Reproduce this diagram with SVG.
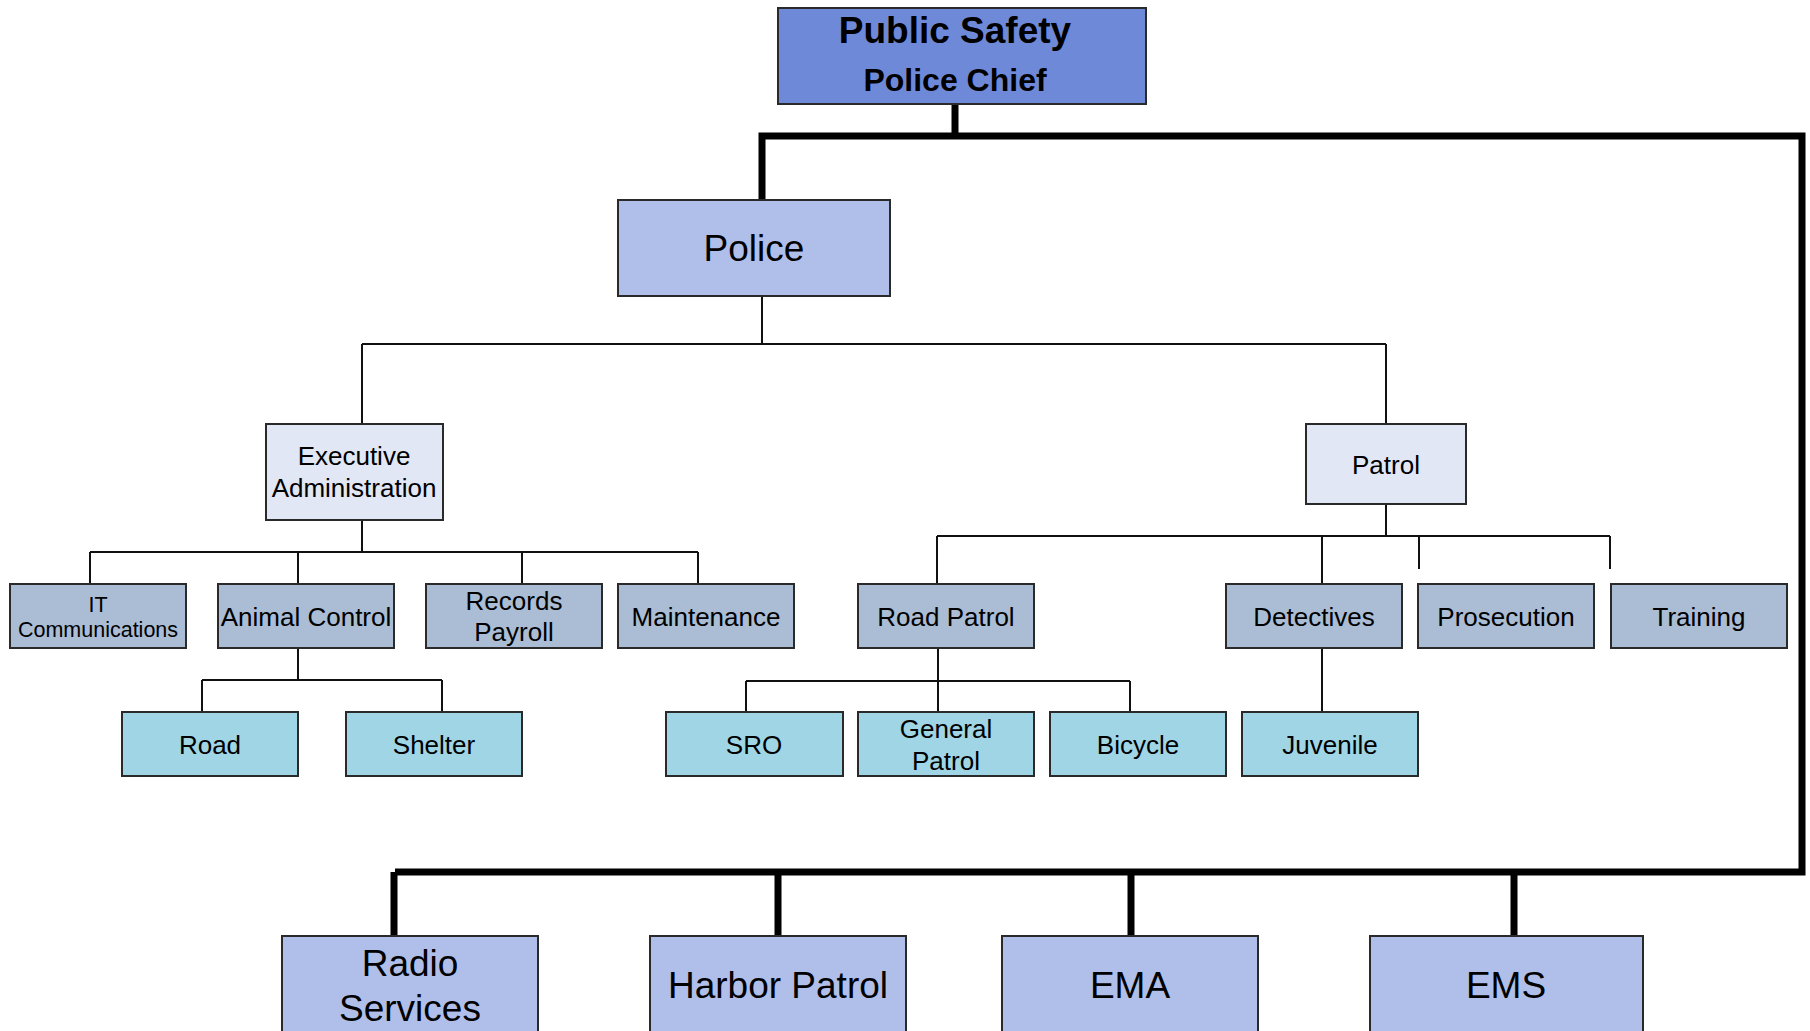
<svg xmlns="http://www.w3.org/2000/svg" width="1810" height="1031" viewBox="0 0 1810 1031">
<style>
  .box { stroke: #2a2a2a; stroke-width: 2; }
  .l0 { fill: #6f89d9; }
  .l1 { fill: #b0bfea; }
  .l2 { fill: #e2e7f6; }
  .l3 { fill: #aabdd4; }
  .l4 { fill: #9fd5e5; }
  text { font-family: "Liberation Sans", Arial, sans-serif; fill: #000; text-anchor: middle; }
  .t26 { font-size: 26px; }
  .t22 { font-size: 21.5px; }
  .t37 { font-size: 37px; }
  .thin { stroke: #111; stroke-width: 2; fill: none; }
  .thick { stroke: #000; stroke-width: 7; fill: none; }
</style>
<rect width="1810" height="1031" fill="#ffffff"/>

<g id="connectors">
  <path class="thick" d="M955 104 V136"/>
  <path class="thick" d="M762 200 V136 H1802 V872 H395"/>
  <path class="thick" d="M394 872 V936 M778 872 V936 M1131 872 V936 M1514 872 V936"/>
  <path class="thin" d="M762 296 V344 M362 344 H1386 M362 344 V424 M1386 344 V424"/>
  <path class="thin" d="M362 520 V552 M90 552 H698 M90 552 V584 M298 552 V584 M522 552 V584 M698 552 V584"/>
  <path class="thin" d="M1386 504 V536 M937 536 H1610 M937 536 V584 M1322 536 V584 M1419 536 V569 M1610 536 V569"/>
  <path class="thin" d="M298 648 V680 M202 680 H442 M202 680 V712 M442 680 V712"/>
  <path class="thin" d="M938 648 V712 M746 681 H1130 M746 681 V712 M1130 681 V712"/>
  <path class="thin" d="M1322 648 V712"/>
</g>

<g id="public-safety">
  <rect class="box l0" x="778" y="8" width="368" height="96"/>
  <text x="955" y="43" style="font-size:37px;font-weight:bold">Public Safety</text>
  <text x="955" y="91" style="font-size:32px;font-weight:bold">Police Chief</text>
</g>

<g id="police">
  <rect class="box l1" x="618" y="200" width="272" height="96"/>
  <text class="t37" x="754" y="261">Police</text>
</g>

<g id="exec-admin">
  <rect class="box l2" x="266" y="424" width="177" height="96"/>
  <text class="t26" x="354" y="465">Executive</text>
  <text class="t26" x="354" y="497">Administration</text>
</g>

<g id="patrol">
  <rect class="box l2" x="1306" y="424" width="160" height="80"/>
  <text class="t26" x="1386" y="474">Patrol</text>
</g>

<g id="it-communications">
  <rect class="box l3" x="10" y="584" width="176" height="64"/>
  <text class="t22" x="98" y="612">IT</text>
  <text class="t22" x="98" y="637">Communications</text>
</g>
<g id="animal-control">
  <rect class="box l3" x="218" y="584" width="176" height="64"/>
  <text class="t26" x="306" y="626">Animal Control</text>
</g>
<g id="records-payroll">
  <rect class="box l3" x="426" y="584" width="176" height="64"/>
  <text class="t26" x="514" y="610">Records</text>
  <text class="t26" x="514" y="641">Payroll</text>
</g>
<g id="maintenance">
  <rect class="box l3" x="618" y="584" width="176" height="64"/>
  <text class="t26" x="706" y="626">Maintenance</text>
</g>
<g id="road-patrol">
  <rect class="box l3" x="858" y="584" width="176" height="64"/>
  <text class="t26" x="946" y="626">Road Patrol</text>
</g>
<g id="detectives">
  <rect class="box l3" x="1226" y="584" width="176" height="64"/>
  <text class="t26" x="1314" y="626">Detectives</text>
</g>
<g id="prosecution">
  <rect class="box l3" x="1418" y="584" width="176" height="64"/>
  <text class="t26" x="1506" y="626">Prosecution</text>
</g>
<g id="training">
  <rect class="box l3" x="1611" y="584" width="176" height="64"/>
  <text class="t26" x="1699" y="626">Training</text>
</g>

<g id="road">
  <rect class="box l4" x="122" y="712" width="176" height="64"/>
  <text class="t26" x="210" y="754">Road</text>
</g>
<g id="shelter">
  <rect class="box l4" x="346" y="712" width="176" height="64"/>
  <text class="t26" x="434" y="754">Shelter</text>
</g>
<g id="sro">
  <rect class="box l4" x="666" y="712" width="177" height="64"/>
  <text class="t26" x="754" y="754">SRO</text>
</g>
<g id="general-patrol">
  <rect class="box l4" x="858" y="712" width="176" height="64"/>
  <text class="t26" x="946" y="738">General</text>
  <text class="t26" x="946" y="770">Patrol</text>
</g>
<g id="bicycle">
  <rect class="box l4" x="1050" y="712" width="176" height="64"/>
  <text class="t26" x="1138" y="754">Bicycle</text>
</g>
<g id="juvenile">
  <rect class="box l4" x="1242" y="712" width="176" height="64"/>
  <text class="t26" x="1330" y="754">Juvenile</text>
</g>

<g id="radio-services">
  <rect class="box l1" x="282" y="936" width="256" height="120"/>
  <text class="t37" x="410" y="976">Radio</text>
  <text class="t37" x="410" y="1021">Services</text>
</g>
<g id="harbor-patrol">
  <rect class="box l1" x="650" y="936" width="256" height="120"/>
  <text class="t37" x="778" y="998">Harbor Patrol</text>
</g>
<g id="ema">
  <rect class="box l1" x="1002" y="936" width="256" height="120"/>
  <text class="t37" x="1130" y="998">EMA</text>
</g>
<g id="ems">
  <rect class="box l1" x="1370" y="936" width="273" height="120"/>
  <text class="t37" x="1506" y="998">EMS</text>
</g>
</svg>
